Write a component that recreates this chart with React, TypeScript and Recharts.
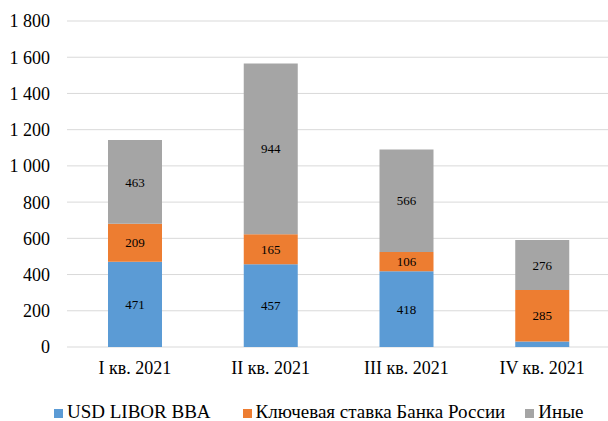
import React from 'react'
import { BarChart, Bar, XAxis, YAxis, CartesianGrid, LabelList, Legend } from 'recharts'

const quarters = ['I кв. 2021', 'II кв. 2021', 'III кв. 2021', 'IV кв. 2021']
const libor = [471, 457, 418, 30]
const keyRate = [209, 165, 106, 285]
const other = [463, 944, 566, 276]
const yTicks = [0, 200, 400, 600, 800, 1000, 1200, 1400, 1600, 1800]

const series = [
    { key: 'libor', name: 'USD LIBOR BBA', color: '#5B9BD5' },
    { key: 'keyRate', name: 'Ключевая ставка Банка России', color: '#ED7D31' },
    { key: 'other', name: 'Иные', color: '#A5A5A5' },
]

const data = quarters.map((q, i) => ({
    quarter: q,
    libor: libor[i],
    keyRate: keyRate[i],
    other: other[i],
}))

const FONT = '"Liberation Serif", "Times New Roman", serif'

const fmtThousands = (v: number) => String(v).replace(/\B(?=(\d{3})+(?!\d))/g, ' ')

// gaps between legend entries, Excel spaces them a little unevenly
const legendGaps = [0, 32, 20]

const LegendBox = () => (
    <div
        style={{
            display: 'flex',
            fontFamily: FONT,
            fontSize: 19,
            lineHeight: '20px',
            color: '#000',
            paddingLeft: 54,
            paddingTop: 25,
        }}
    >
        {series.map((s, i) => (
            <div key={s.key} style={{ display: 'flex', alignItems: 'center', marginLeft: legendGaps[i] }}>
                <span style={{ width: 9, height: 9, background: s.color, display: 'inline-block', marginRight: 4, marginTop: 3 }} />
                <span>{s.name}</span>
            </div>
        ))}
    </div>
)

export default function App() {
    return (
        <div style={{ position: 'absolute', left: 0, top: 0, width: 608, height: 421, background: '#fff', fontFamily: FONT, overflow: 'hidden' }}>
            <BarChart
                width={608}
                height={421}
                data={data}
                margin={{ top: 21, right: -2, left: 0, bottom: 0 }}
                barSize={54}
            >
                <CartesianGrid vertical={false} stroke="#D9D9D9" />
                <XAxis
                    dataKey="quarter"
                    axisLine={false}
                    tickLine={false}
                    height={30}
                    tickMargin={8}
                    tick={{ fontFamily: FONT, fontSize: 18, fill: '#000' }}
                />
                <YAxis
                    width={67}
                    domain={[0, 1800]}
                    ticks={yTicks}
                    axisLine={false}
                    tickLine={false}
                    tickMargin={11}
                    tickFormatter={fmtThousands}
                    tick={{ fontFamily: FONT, fontSize: 18, fill: '#000' }}
                />
                <Legend verticalAlign="bottom" height={44} content={() => <LegendBox />} />
                {series.map((s) => (
                    <Bar key={s.key} dataKey={s.key} name={s.name} stackId="a" fill={s.color} isAnimationActive={false}>
                        <LabelList
                            dataKey={s.key}
                            position="center"
                            formatter={(v: any) => (v < 50 ? '' : v)}
                            style={{ fontFamily: FONT, fontSize: 13, fill: '#000' }}
                        />
                    </Bar>
                ))}
            </BarChart>
        </div>
    )
}
